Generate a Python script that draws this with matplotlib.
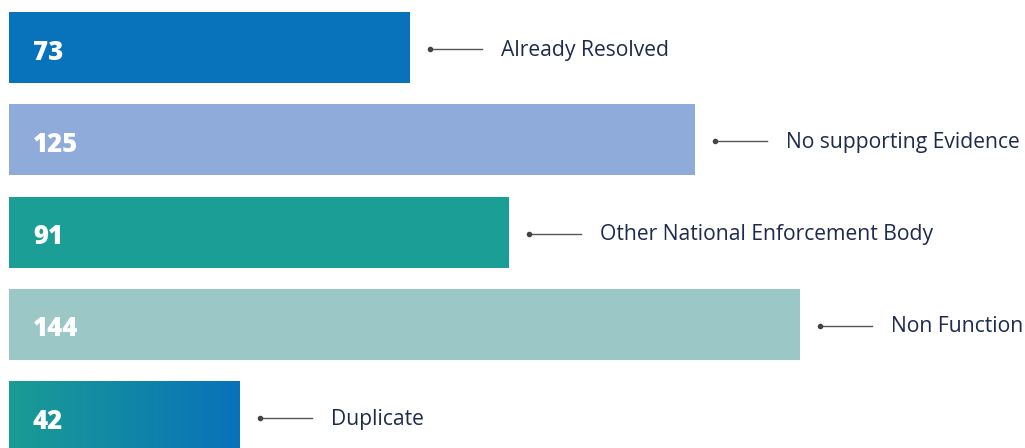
import matplotlib.pyplot as plt
import numpy as np
from matplotlib.colors import LinearSegmentedColormap

LABELS = ["Already Resolved", "No supporting Evidence", "Other National Enforcement Body",
          "Non Function", "Duplicate"]
VALUES = [73, 125, 91, 144, 42]
COLORS = ["#0872ba", "#8fabda", "#1a9e96", "#9bc7c6", None]
GRAD = ["#1a9c94", "#0872ba"]

W, H = 1025, 448
PX = 5.49          # pixels per value unit
ROW = 92.25        # pixels per row


def main():
    fig = plt.figure(figsize=(W / 100, H / 100), dpi=100)
    ax = fig.add_axes([0, 0, 1, 1])
    ax.axis("off")

    ys = np.arange(len(VALUES))
    bars = ax.barh(ys, VALUES, height=71 / ROW,
                   color=[c if c else GRAD[1] for c in COLORS])

    # gradient fill for the bars without a flat colour
    cmap = LinearSegmentedColormap.from_list("grad", GRAD)
    for bar, c in zip(bars, COLORS):
        if c:
            continue
        x0, y0 = bar.get_x(), bar.get_y()
        im = ax.imshow(np.linspace(0, 1, 256)[None, :], cmap=cmap, aspect="auto",
                       extent=(x0, x0 + bar.get_width(), y0 + bar.get_height(), y0),
                       zorder=bar.get_zorder() + 0.1)
        im.set_clip_path(bar)
    ax.set_xlim(-9 / PX, (W - 9) / PX)
    ax.set_ylim(4 + (H - 416.5) / ROW, -47.5 / ROW)

    for y, v, lab in zip(ys, VALUES, LABELS):
        ax.text(24 / PX, y + 5 / ROW, str(v), color="white", fontsize=18.5,
                fontweight="heavy", family="Open Sans", va="center", ha="left", zorder=5)
        dot_x = v + 20 / PX
        ax.plot([dot_x, dot_x + 52 / PX], [y + 1.5 / ROW] * 2, color="#555555", lw=1)
        ax.plot(dot_x, y + 1.5 / ROW, "o", color="#444444", ms=3)
        ax.text(v + 91 / PX, y + 2.5 / ROW, lab, color="#1e2b4d", fontsize=15.2,
                family="Open Sans", va="center", ha="left")

    fig.savefig("out.png", dpi=100)


if __name__ == "__main__":
    main()
